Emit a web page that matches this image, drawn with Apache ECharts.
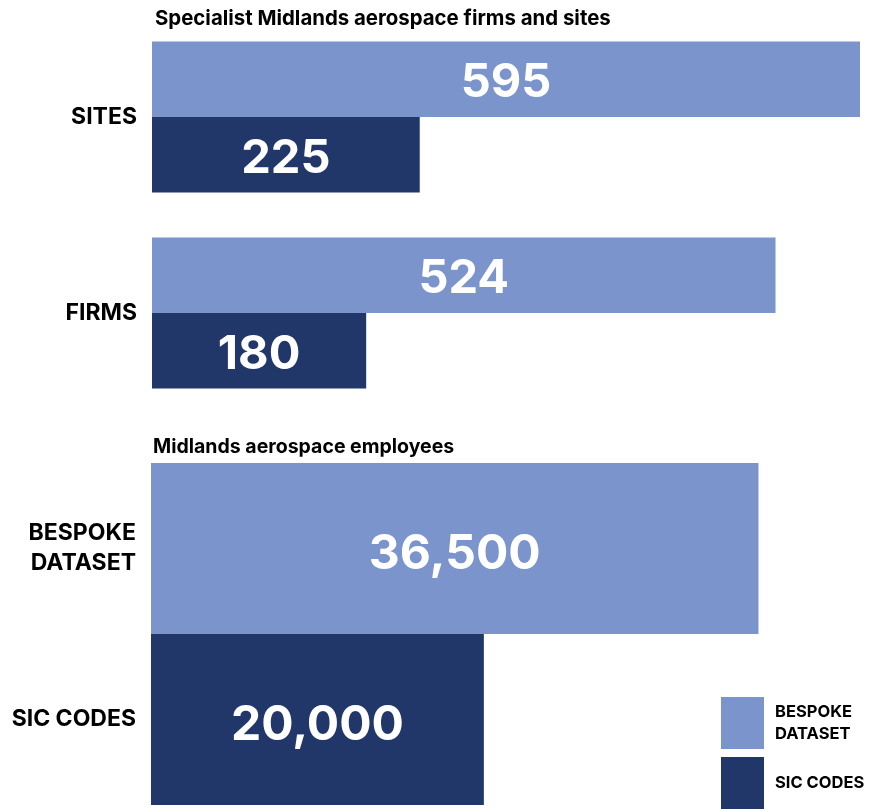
<!DOCTYPE html>
<html>
<head>
<meta charset="utf-8">
<script src="https://cdn.jsdelivr.net/npm/echarts@6/dist/echarts.min.js"></script>
<style>
  html, body { margin: 0; padding: 0; background: #fff; }
  #main { width: 870px; height: 810px; }
</style>
</head>
<body>
<div id="main"></div>
<script>
// firms and sites
const countCategories = ['SITES', 'FIRMS'];
const countBespoke = [595, 524];
const countSic = [225, 180];

// employees
const empCategories = ['BESPOKE DATASET', 'SIC CODES'];
const empBespoke = [36500, '-'];
const empSic = ['-', 20000];

const LIGHT = '#7b94cb';
const DARK = '#213769';
const FONT = 'Inter';

const chart = echarts.init(document.getElementById('main'));

const barLabel = (size, dy) => ({
  show: true,
  position: 'inside',
  offset: [0, dy],
  color: '#fff',
  fontFamily: FONT,
  fontWeight: 'bold',
  fontSize: size,
  formatter: (p) => Number(p.value).toLocaleString('en-GB')
});

const catAxis = (idx, data) => ({
  type: 'category',
  gridIndex: idx,
  data: data,
  inverse: true,
  axisLine: { show: false },
  axisTick: { show: false },
  axisLabel: {
    margin: 15,
    color: '#000',
    fontFamily: FONT,
    fontWeight: 'bold',
    fontSize: 23,
    lineHeight: 30,
    formatter: (v) => v.replace('BESPOKE ', 'BESPOKE\n')
  }
});

chart.setOption({
  animation: false,
  title: [
    {
      text: 'Specialist Midlands aerospace firms and sites',
      left: 150, top: 4,
      textStyle: { fontFamily: FONT, fontWeight: 'bold', fontSize: 20.4, color: '#000' }
    },
    {
      text: 'Midlands aerospace employees',
      left: 148, top: 432,
      textStyle: { fontFamily: FONT, fontWeight: 'bold', fontSize: 19.5, color: '#000' }
    }
  ],
  legend: {
    orient: 'vertical',
    left: 721, top: 697,
    padding: 0,
    itemWidth: 43, itemHeight: 52, itemGap: 8,
    icon: 'rect',
    data: ['BESPOKE DATASET', 'SIC CODES'],
    formatter: (n) => n.replace('BESPOKE ', 'BESPOKE\n'),
    textStyle: {
      fontFamily: FONT, fontWeight: 'bold', fontSize: 16.5, lineHeight: 22,
      color: '#000', padding: [7, 0, 0, 6]
    }
  },
  grid: [
    { left: 152, width: 708, top: 19, height: 392 },
    { left: 151, width: 709, top: 463, height: 342 }
  ],
  xAxis: [
    { type: 'value', gridIndex: 0, min: 0, max: 595, show: false },
    { type: 'value', gridIndex: 1, min: 0, max: 42600, show: false }
  ],
  yAxis: [catAxis(0, countCategories), catAxis(1, empCategories)],
  series: [
    {
      name: 'BESPOKE DATASET', type: 'bar', xAxisIndex: 0, yAxisIndex: 0,
      data: countBespoke, barGap: 0, barCategoryGap: '23%',
      itemStyle: { color: LIGHT }, label: barLabel(47, 4)
    },
    {
      name: 'SIC CODES', type: 'bar', xAxisIndex: 0, yAxisIndex: 0,
      data: countSic, barGap: 0, barCategoryGap: '23%',
      itemStyle: { color: DARK }, label: barLabel(47, 4)
    },
    {
      name: 'BESPOKE DATASET', type: 'bar', xAxisIndex: 1, yAxisIndex: 1,
      data: empBespoke, stack: 'emp', barCategoryGap: 0,
      itemStyle: { color: LIGHT }, label: barLabel(48, 6)
    },
    {
      name: 'SIC CODES', type: 'bar', xAxisIndex: 1, yAxisIndex: 1,
      data: empSic, stack: 'emp', barCategoryGap: 0,
      itemStyle: { color: DARK }, label: barLabel(48, 6)
    }
  ]
});
</script>
</body>
</html>
